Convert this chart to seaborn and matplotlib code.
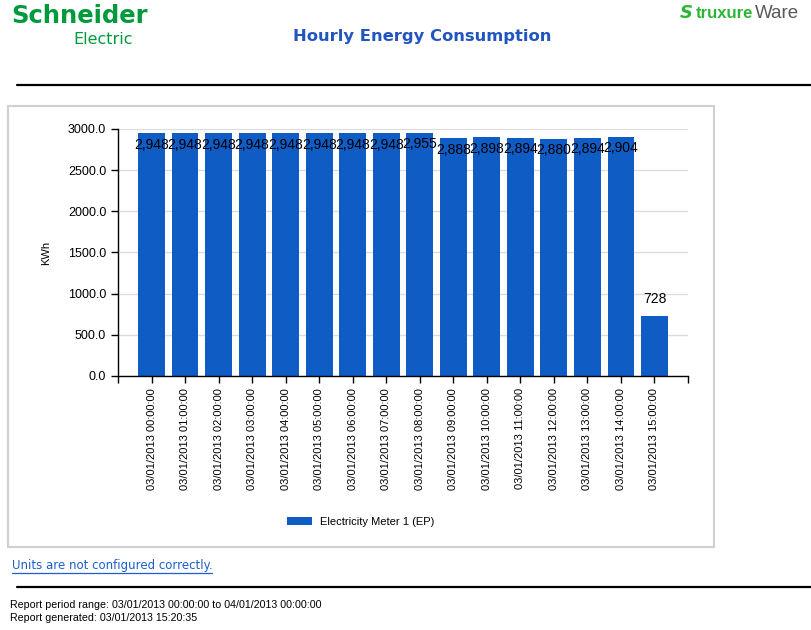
import numpy as np
import pandas as pd
import matplotlib
matplotlib.use("Agg")
import matplotlib.pyplot as plt
import seaborn as sns
from matplotlib.patches import Rectangle
from matplotlib.lines import Line2D

# data
hours = ["03/01/2013 {:02d}:00:00".format(h) for h in range(16)]
kwh = [2948, 2948, 2948, 2948, 2948, 2948, 2948, 2948,
       2955, 2888, 2898, 2894, 2880, 2894, 2904, 728]
series_name = "Electricity Meter 1 (EP)"
yticks = [0, 500, 1000, 1500, 2000, 2500, 3000]

sns.set_style("white")
plt.rcParams['font.family'] = ['Liberation Sans', 'DejaVu Sans']
plt.rcParams['text.color'] = 'black'
plt.rcParams['xtick.color'] = 'black'
plt.rcParams['ytick.color'] = 'black'
plt.rcParams['axes.labelcolor'] = 'black'

W, H = 811, 630
fig = plt.figure(figsize=(W / 100, H / 100), dpi=100)

def fx(px):
    return px / W

def fy(py):
    return 1 - py / H

bar_col = "#0f5cc5"

# chart frame
fig.patches.append(Rectangle((fx(8), fy(547)), fx(706), (547 - 106) / H,
                             transform=fig.transFigure, fill=False,
                             edgecolor="#d0d0d0", lw=1.5))
# separator lines
fig.lines.append(Line2D([fx(17), 1], [fy(85), fy(85)], transform=fig.transFigure,
                        color="black", lw=1.6))
fig.lines.append(Line2D([fx(17), 1], [fy(587), fy(587)], transform=fig.transFigure,
                        color="black", lw=1.6))

ax = fig.add_axes([fx(118), fy(376), fx(570), (376 - 129) / H])
df = pd.DataFrame({"hour": hours, "kwh": kwh})
sns.barplot(data=df, x="hour", y="kwh", color=bar_col, saturation=1,
            width=0.8, ax=ax, label=series_name, errorbar=None, linewidth=0)

ax.set_xlim(-1, len(hours))
ax.set_ylim(0, 3000)
ax.set_yticks(yticks)
ax.set_yticklabels(["{:.1f}".format(v) for v in yticks], fontsize=9)
ax.set_xticks(range(len(hours)))
ax.set_xticklabels(hours, rotation=90, fontsize=8)
ax.set_xticks([-1, len(hours)], minor=True)
ax.tick_params(axis="x", which="both", length=5, width=1, color="black",
               direction="out", bottom=True)
ax.tick_params(axis="y", length=5, width=1, color="black", direction="out", left=True)
ax.set_xlabel("")
ax.set_ylabel("KWh", fontsize=8, labelpad=12)
ax.yaxis.grid(True, color="#dcdcdc", lw=1)
ax.set_axisbelow(True)
for s in ["top", "right"]:
    ax.spines[s].set_visible(False)
for s in ["left", "bottom"]:
    ax.spines[s].set_color("black")
    ax.spines[s].set_linewidth(1)

for i, v in enumerate(kwh):
    if v > 2700:
        ax.text(i, v - 55, "{:,}".format(v), ha="center", va="top", fontsize=10)
    else:
        ax.text(i, v + 120, "{:,}".format(v), ha="center", va="bottom", fontsize=10)

leg = ax.legend(loc="center", bbox_to_anchor=(fx(361), fy(522)),
                bbox_transform=fig.transFigure, frameon=False, fontsize=8,
                handlelength=2.2, handleheight=0.8)

# header
fig.text(fx(11), fy(16), "Schneider", color="#009a3d", fontsize=17.5,
         fontweight="bold", va="center", family="DejaVu Sans")
fig.text(fx(73), fy(39), "Electric", color="#009a3d", fontsize=11.5,
         va="center", family="DejaVu Sans")
fig.text(fx(422), fy(37), "Hourly Energy Consumption", color="#2255c0",
         fontsize=11.8, fontweight="bold", ha="center", va="center",
         family="DejaVu Sans")
fig.text(fx(680), fy(13), "S", color="#2bb532", fontsize=13, fontweight="bold",
         va="center", style="italic", family="DejaVu Sans")
fig.text(fx(696), fy(13), "truxure", color="#2bb532", fontsize=12,
         fontweight="bold", va="center", family="Liberation Sans")
fig.text(fx(755), fy(13), "Ware", color="#5a5a5a", fontsize=13.5,
         va="center", family="Liberation Sans")

# footer
link = fig.text(fx(12), fy(566), "Units are not configured correctly.",
                color="#1a5fd0", fontsize=8.5, va="center", family="DejaVu Sans")
fig.lines.append(Line2D([fx(12), fx(212)], [fy(573), fy(573)],
                        transform=fig.transFigure, color="#1a5fd0", lw=0.9))
fig.text(fx(10), fy(605), "Report period range: 03/01/2013 00:00:00 to 04/01/2013 00:00:00",
         fontsize=7.7, va="center")
fig.text(fx(10), fy(618), "Report generated: 03/01/2013 15:20:35",
         fontsize=7.7, va="center")

fig.savefig("out.png", dpi=100)
